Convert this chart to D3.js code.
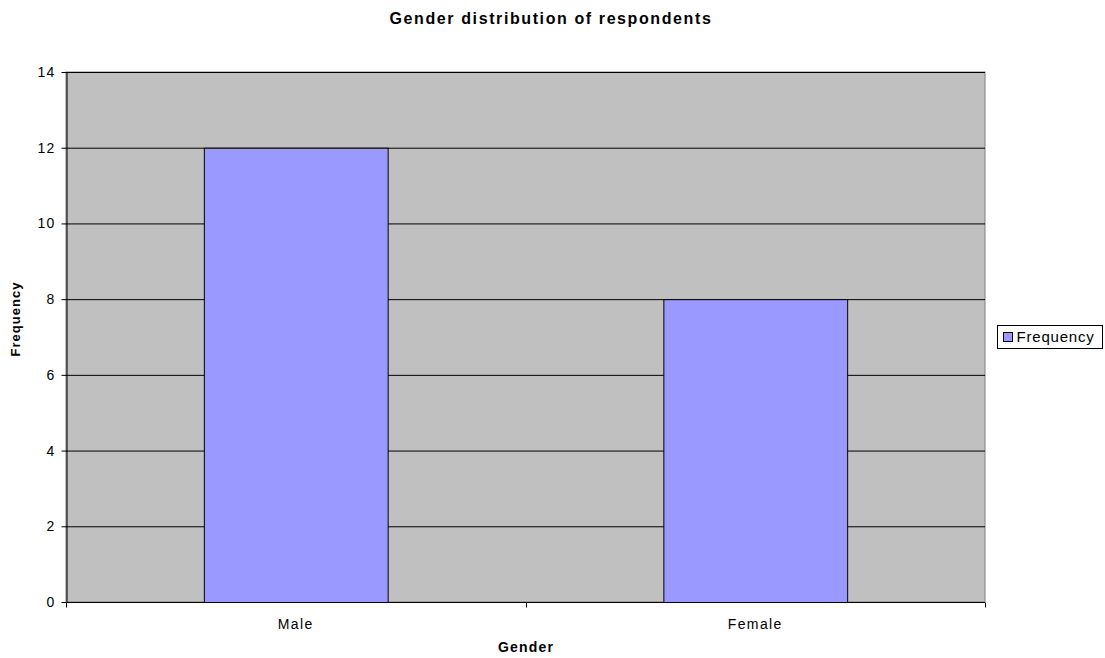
<!DOCTYPE html>
<html lang="en">
<head>
<meta charset="UTF-8">
<title>Gender distribution of respondents</title>
<script src="https://d3js.org/d3.v7.min.js"></script>
<style>
  body { margin: 0; background: #fff; font-family: 'Liberation Sans', Arial, sans-serif; }
  svg text { fill: #000; }
</style>
</head>
<body>
<div id="chart"></div>
<script>
// --- Data ---
const categories = ["Male", "Female"];
const frequency = [12, 8];
const yTicks = [0, 2, 4, 6, 8, 10, 12, 14];
const seriesName = "Frequency";

const W = 1105, H = 658;
const margin = { left: 66, top: 72, right: 120, bottom: 56 };
const plotW = 985 - margin.left;
const plotH = 602 - margin.top;

const svg = d3.select("#chart").append("svg")
    .attr("width", W)
    .attr("height", H);

const g = svg.append("g").attr("transform", `translate(${margin.left},${margin.top})`);

const x = d3.scaleBand().domain(categories).range([0, plotW]).paddingInner(0.6).paddingOuter(0.3);
const y = d3.scaleLinear().domain([0, 14]).range([plotH, 0]);

// plot background
g.append("rect")
    .attr("width", plotW).attr("height", plotH)
    .attr("fill", "#c0c0c0")
    .attr("stroke", "#808080");

// gridlines
g.selectAll("line.grid")
    .data(yTicks.filter(d => d > 0))
    .join("line")
    .attr("class", "grid")
    .attr("x1", 0).attr("x2", plotW)
    .attr("y1", d => y(d) + 0.5).attr("y2", d => y(d) + 0.5)
    .attr("stroke", "#000");

// bars
g.selectAll("rect.bar")
    .data(frequency)
    .join("rect")
    .attr("class", "bar")
    .attr("x", (d, i) => x(categories[i]) + 0.5)
    .attr("y", d => y(d) + 0.5)
    .attr("width", x.bandwidth())
    .attr("height", d => y(0) - y(d))
    .attr("fill", "#9999ff")
    .attr("stroke", "#000");

// y axis
const yAxis = g.append("g")
    .attr("transform", "translate(0.5,0)")
    .call(d3.axisLeft(y).tickValues(yTicks).tickSize(5).tickPadding(6).tickSizeOuter(0));
yAxis.select(".domain").attr("stroke", "#000");
yAxis.selectAll(".tick line").attr("stroke", "#000");
yAxis.selectAll("text")
    .style("font-size", "14px")
    .style("letter-spacing", "1.2px")
    .style("font-family", "'Liberation Sans', Arial, sans-serif");

// x axis
const xEdges = d3.scaleLinear().domain([0, categories.length]).range([0, plotW]);
const xAxis = g.append("g")
    .attr("transform", `translate(0,${plotH + 0.5})`);
xAxis.append("line")
    .attr("x1", 0).attr("x2", plotW)
    .attr("stroke", "#000");
xAxis.selectAll("line.tick")
    .data(d3.range(categories.length + 1))
    .join("line")
    .attr("class", "tick")
    .attr("x1", d => Math.round(xEdges(d)) + 0.5).attr("x2", d => Math.round(xEdges(d)) + 0.5)
    .attr("y1", 0).attr("y2", 5)
    .attr("stroke", "#000");
xAxis.selectAll("text")
    .data(categories)
    .join("text")
    .attr("x", d => x(d) + x.bandwidth() / 2)
    .attr("y", 26)
    .attr("text-anchor", "middle")
    .style("font-size", "14px")
    .style("letter-spacing", "1.4px")
    .text(d => d);

// title
svg.append("text")
    .attr("x", 551).attr("y", 24)
    .attr("text-anchor", "middle")
    .style("font-size", "16px").style("font-weight", "bold")
    .style("letter-spacing", "1.6px")
    .text("Gender distribution of respondents");

// axis titles
svg.append("text")
    .attr("x", 526).attr("y", 652)
    .attr("text-anchor", "middle")
    .style("font-size", "14px").style("font-weight", "bold")
    .style("letter-spacing", "1.2px")
    .text("Gender");

svg.append("text")
    .attr("transform", `translate(20,${margin.top + plotH / 2 - 18}) rotate(-90)`)
    .attr("text-anchor", "middle")
    .style("font-size", "13px").style("font-weight", "bold")
    .style("letter-spacing", "1px")
    .text("Frequency");

// legend
const lg = svg.append("g").attr("transform", "translate(997.5,325.5)");
lg.append("rect")
    .attr("width", 105).attr("height", 23)
    .attr("fill", "#fff").attr("stroke", "#000");
lg.append("rect")
    .attr("x", 6).attr("y", 7).attr("width", 9).attr("height", 9)
    .attr("fill", "#9999ff").attr("stroke", "#000");
lg.append("text")
    .attr("x", 19).attr("y", 16)
    .style("font-size", "15px")
    .style("letter-spacing", "0.8px")
    .text(seriesName);
</script>
</body>
</html>
